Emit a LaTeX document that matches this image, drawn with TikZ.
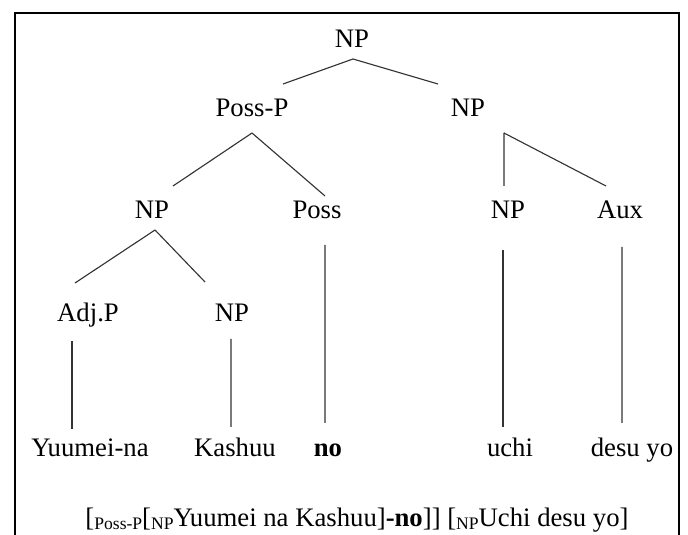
\documentclass[tikz,border=0pt]{standalone}
\usepackage{fontspec}
\setmainfont{Liberation Serif}
\usepackage{tikz}
\usetikzlibrary{positioning}

% small lowered phrase label inside the bracketing
\newcommand{\phr}[1]{{\fontsize{12.5}{14}\selectfont\raisebox{-0.06cm}{#1}}}

\begin{document}
\begin{tikzpicture}[
    cat/.style={inner sep=0pt, anchor=base, font=\fontsize{19}{22}\selectfont},
    branch/.style={line width=0.8pt, black!80},
    frame/.style={line width=1.4pt, black}
]
    \useasboundingbox (0,0) rectangle (17.2,-13.375);
    \draw[frame] (0.375,-13.5) -- (0.375,-0.325) -- (16.975,-0.325) -- (16.975,-13.5);

    % phrase nodes
    \node[cat] (root) at (8.8,-1.2) {NP};
    \node[cat] (posp) at (6.3,-2.925) {Poss-P};
    \node[cat] (np1) at (11.7,-2.925) {NP};
    \node[cat] (np2a) at (3.8,-5.475) {NP};
    \node[cat] (poss) at (7.925,-5.475) {Poss};
    \node[cat] (np2b) at (12.7,-5.475) {NP};
    \node[cat] (aux) at (15.5,-5.475) {Aux};
    \node[cat] (adjp) at (2.2,-8.05) {Adj.P};
    \node[cat] (np3) at (5.8,-8.05) {NP};

    % words
    \node[cat] (yuumei) at (2.25,-11.425) {Yuumei-na};
    \node[cat] (kashuu) at (5.875,-11.425) {Kashuu};
    \node[cat] (no) at (8.2,-11.425) {\textbf{no}};
    \node[cat] (uchi) at (12.75,-11.425) {uchi};
    \node[cat] (desu) at (15.8,-11.425) {desu yo};

    % bracketed form
    \node[cat] (brk) at (8.925,-13.175) {[\phr{Poss-P}[\phr{NP}Yuumei na Kashuu]\textbf{-no}]] [\phr{NP}Uchi desu yo]};

    % branches
    \draw[branch] ([shift={(0.025,-0.275)}]root.base) -- ([shift={(0.775,0.825)}]posp.base);
    \draw[branch] ([shift={(0.025,-0.275)}]root.base) -- ([shift={(-0.75,0.825)}]np1.base);
    \draw[branch] ([shift={(0,-0.4)}]posp.base) -- ([shift={(0.525,0.825)}]np2a.base);
    \draw[branch] ([shift={(0,-0.4)}]posp.base) -- ([shift={(0.2,0.575)}]poss.base);
    \draw[branch] ([shift={(0.9,-0.4)}]np1.base) -- ([shift={(-0.1,0.825)}]np2b.base);
    \draw[branch] ([shift={(0.9,-0.4)}]np1.base) -- ([shift={(-0.35,0.825)}]aux.base);
    \draw[branch] ([shift={(0.075,-0.275)}]np2a.base) -- ([shift={(-0.325,0.975)}]adjp.base);
    \draw[branch] ([shift={(0.075,-0.275)}]np2a.base) -- ([shift={(-0.675,1.0)}]np3.base);
    \draw[branch] ([shift={(-0.4,-0.475)}]adjp.base) -- ([shift={(-0.45,0.7)}]yuumei.base);
    \draw[branch] ([shift={(-0.025,-0.425)}]np3.base) -- ([shift={(-0.1,0.75)}]kashuu.base);
    \draw[branch] ([shift={(0.2,-0.65)}]poss.base) -- ([shift={(-0.075,0.85)}]no.base);
    \draw[branch] ([shift={(-0.125,-0.775)}]np2b.base) -- ([shift={(-0.175,0.75)}]uchi.base);
    \draw[branch] ([shift={(0.05,-0.7)}]aux.base) -- ([shift={(-0.25,0.85)}]desu.base);
\end{tikzpicture}
\end{document}
